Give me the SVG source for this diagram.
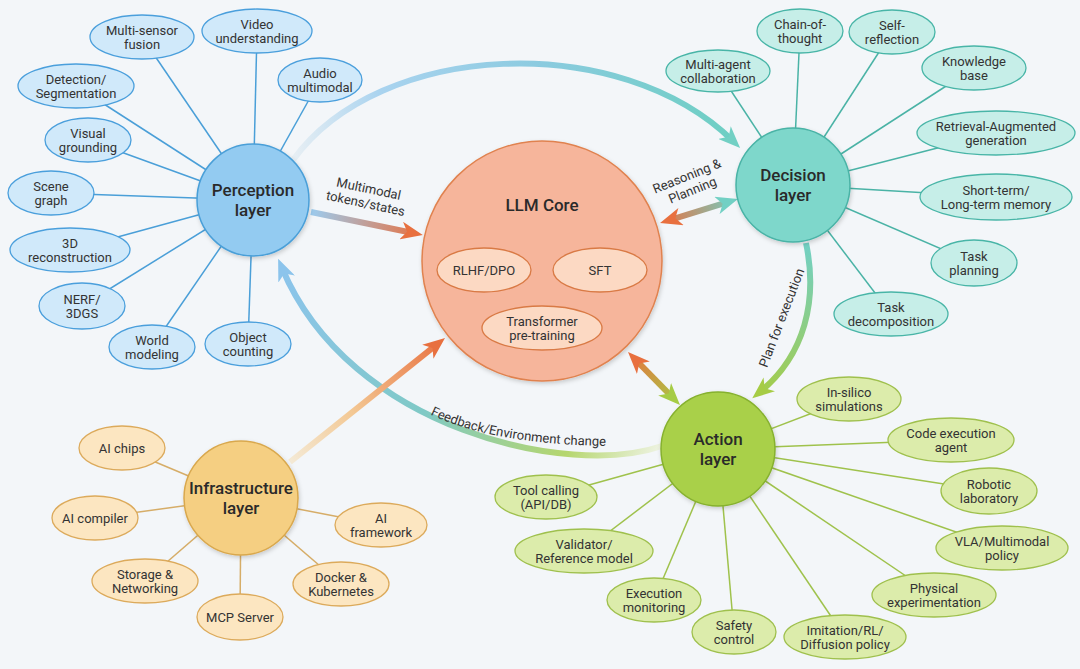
<svg xmlns="http://www.w3.org/2000/svg" width="1080" height="669" viewBox="0 0 1080 669">
<style>
text{font-family:Roboto,"Liberation Sans",sans-serif;fill:#333;text-anchor:middle}
.s{font-size:13px}
.h{font-size:17px;font-weight:500;fill:#2a2a2a}
.lbl{font-size:13px;fill:#333}
.pl{stroke:#4a9fd8;stroke-width:1.5}
.dl{stroke:#4ab3a6;stroke-width:1.5}
.al{stroke:#9fc24c;stroke-width:1.5}
.il{stroke:#d6ad68;stroke-width:1.5}
.pe{fill:#d0e9fa;stroke:#4a9fdc;stroke-width:1.3}
.de{fill:#c6eee8;stroke:#48b5a7;stroke-width:1.3}
.ae{fill:#dcecab;stroke:#9fc04d;stroke-width:1.3}
.ie{fill:#fce6c1;stroke:#dcaa5b;stroke-width:1.3}
.ce{fill:#fcd9c3;stroke:#d97a45;stroke-width:1.3}
.big{fill:none;stroke-width:6;stroke-linecap:butt}
</style>
<defs>
<filter id="sh" x="-20%" y="-20%" width="140%" height="140%"><feDropShadow dx="1" dy="2" stdDeviation="2" flood-color="#000" flood-opacity="0.18"/></filter>
<marker id="aO" viewBox="0 0 22 18" refX="12" refY="9" markerWidth="22" markerHeight="18" markerUnits="userSpaceOnUse" orient="auto-start-reverse"><path d="M0,0 L22,9 L0,18 L6,9 z" fill="#e8703f"/></marker>
<marker id="aT" viewBox="0 0 22 18" refX="12" refY="9" markerWidth="22" markerHeight="18" markerUnits="userSpaceOnUse" orient="auto-start-reverse"><path d="M0,0 L22,9 L0,18 L6,9 z" fill="#72d0c4"/></marker>
<marker id="aG" viewBox="0 0 22 18" refX="12" refY="9" markerWidth="22" markerHeight="18" markerUnits="userSpaceOnUse" orient="auto-start-reverse"><path d="M0,0 L22,9 L0,18 L6,9 z" fill="#a6cc45"/></marker>
<marker id="aB" viewBox="0 0 22 18" refX="12" refY="9" markerWidth="22" markerHeight="18" markerUnits="userSpaceOnUse" orient="auto-start-reverse"><path d="M0,0 L22,9 L0,18 L6,9 z" fill="#8cc4ec"/></marker>
<linearGradient id="gPD" gradientUnits="userSpaceOnUse" x1="293" y1="160" x2="740" y2="147"><stop offset="0" stop-color="#e8eff4"/><stop offset="0.2" stop-color="#a9d3ef"/><stop offset="0.55" stop-color="#8ccbe0"/><stop offset="1" stop-color="#6ccfc2"/></linearGradient>
<linearGradient id="gPL" gradientUnits="userSpaceOnUse" x1="311" y1="212" x2="423" y2="235"><stop offset="0" stop-color="#9ccbee"/><stop offset="1" stop-color="#e8703f"/></linearGradient>
<linearGradient id="gLD" gradientUnits="userSpaceOnUse" x1="660" y1="223" x2="738" y2="199"><stop offset="0" stop-color="#e8703f"/><stop offset="1" stop-color="#72d0c4"/></linearGradient>
<linearGradient id="gDA" gradientUnits="userSpaceOnUse" x1="806" y1="243" x2="755" y2="397"><stop offset="0" stop-color="#72d0c4"/><stop offset="1" stop-color="#a6cc45"/></linearGradient>
<linearGradient id="gLA" gradientUnits="userSpaceOnUse" x1="628" y1="352" x2="680" y2="405"><stop offset="0" stop-color="#e8703f"/><stop offset="1" stop-color="#a6cc45"/></linearGradient>
<linearGradient id="gAP" gradientUnits="userSpaceOnUse" x1="662" y1="446" x2="282" y2="268"><stop offset="0" stop-color="#eef3e2"/><stop offset="0.2" stop-color="#b5d66e"/><stop offset="0.55" stop-color="#7fc9c6"/><stop offset="1" stop-color="#8cc4ec"/></linearGradient>
<linearGradient id="gIL" gradientUnits="userSpaceOnUse" x1="290" y1="462" x2="445" y2="338"><stop offset="0" stop-color="#f4ead6"/><stop offset="0.4" stop-color="#f3c894"/><stop offset="1" stop-color="#e8703f"/></linearGradient>
<path id="fbPath" d="M 425,412 Q 490,445 612,446"/>
</defs>
<rect x="0" y="0" width="1080" height="669" fill="#f3f6f9"/>

<g id="connectors">
<g id="spokes">
<line class="pl" x1="253" y1="200" x2="142" y2="37"/>
<line class="pl" x1="253" y1="200" x2="257" y2="31"/>
<line class="pl" x1="253" y1="200" x2="320" y2="80"/>
<line class="pl" x1="253" y1="200" x2="76" y2="86"/>
<line class="pl" x1="253" y1="200" x2="88" y2="140"/>
<line class="pl" x1="253" y1="200" x2="51" y2="193"/>
<line class="pl" x1="253" y1="200" x2="70" y2="250"/>
<line class="pl" x1="253" y1="200" x2="82" y2="306"/>
<line class="pl" x1="253" y1="200" x2="152" y2="347"/>
<line class="pl" x1="253" y1="200" x2="248" y2="344"/>
<line class="dl" x1="793" y1="185" x2="718" y2="71"/>
<line class="dl" x1="793" y1="185" x2="800" y2="31"/>
<line class="dl" x1="793" y1="185" x2="892" y2="32"/>
<line class="dl" x1="793" y1="185" x2="974" y2="68"/>
<line class="dl" x1="793" y1="185" x2="996" y2="133"/>
<line class="dl" x1="793" y1="185" x2="996" y2="197"/>
<line class="dl" x1="793" y1="185" x2="974" y2="263"/>
<line class="dl" x1="793" y1="185" x2="891" y2="314"/>
<line class="al" x1="718" y1="449" x2="849" y2="399"/>
<line class="al" x1="718" y1="449" x2="951" y2="440"/>
<line class="al" x1="718" y1="449" x2="989" y2="491"/>
<line class="al" x1="718" y1="449" x2="1002" y2="548"/>
<line class="al" x1="718" y1="449" x2="934" y2="595"/>
<line class="al" x1="718" y1="449" x2="845" y2="637"/>
<line class="al" x1="718" y1="449" x2="734" y2="632"/>
<line class="al" x1="718" y1="449" x2="654" y2="600"/>
<line class="al" x1="718" y1="449" x2="584" y2="551"/>
<line class="al" x1="718" y1="449" x2="546" y2="497"/>
<line class="il" x1="241" y1="498" x2="122" y2="448"/>
<line class="il" x1="241" y1="498" x2="95" y2="518"/>
<line class="il" x1="241" y1="498" x2="145" y2="581"/>
<line class="il" x1="241" y1="498" x2="240" y2="617"/>
<line class="il" x1="241" y1="498" x2="341" y2="584"/>
<line class="il" x1="241" y1="498" x2="381" y2="525"/>
</g>
<g id="flows">
<path class="big" stroke="url(#gPD)" d="M 293,160 C 380,40 620,30 733,141" marker-end="url(#aT)"/>
<path class="big" stroke="url(#gPL)" d="M 311,212 L 413,233" marker-end="url(#aO)"/>
<path class="big" stroke="url(#gLD)" d="M 669.6,220.1 L 728.4,201.9" marker-start="url(#aO)" marker-end="url(#aT)"/>
<path class="big" stroke="url(#gDA)" d="M 806,243 C 818,300 805,355 760,392" marker-end="url(#aG)"/>
<path class="big" stroke="url(#gLA)" d="M 635,359.1 L 673,397.9" marker-start="url(#aO)" marker-end="url(#aG)"/>
<path class="big" stroke="url(#gAP)" d="M 662,446 C 570,478 350,430 282,268" marker-end="url(#aB)"/>
<path class="big" stroke="url(#gIL)" d="M 290,462 L 437.2,344.2" marker-end="url(#aO)"/>
</g>
<g id="flow-labels">
<g transform="translate(367,197) rotate(12)"><text class="lbl" x="0" y="-4">Multimodal</text><text class="lbl" x="0" y="11">tokens/states</text></g>
<g transform="translate(690,184) rotate(-22)"><text class="lbl" x="0" y="-4">Reasoning &amp;</text><text class="lbl" x="0" y="11">Planning</text></g>
<g transform="translate(782,318) rotate(-69)"><text class="lbl" x="0" y="4">Plan for execution</text></g>
<text class="lbl"><textPath href="#fbPath" startOffset="50%">Feedback/Environment change</textPath></text>
</g>
</g>

<g id="llm-core">
<circle cx="542" cy="261" r="120" fill="#f6b59b" stroke="#e0824f" stroke-width="1.5" filter="url(#sh)"/>
<text class="h" x="542" y="211">LLM Core</text>
<g id="rlhf"><ellipse class="ce" cx="484" cy="270" rx="47" ry="22"/><text class="s" x="484" y="275">RLHF/DPO</text></g>
<g id="sft"><ellipse class="ce" cx="600" cy="270" rx="47" ry="22"/><text class="s" x="600" y="275">SFT</text></g>
<g id="pretrain"><ellipse class="ce" cx="542" cy="328" rx="60" ry="22"/><text class="s" x="542" y="326">Transformer<tspan x="542" dy="14">pre-training</tspan></text></g>
</g>

<g id="perception">
<circle cx="253" cy="200" r="56" fill="#93cbf1" stroke="#4a9fd8" stroke-width="1.5" filter="url(#sh)"/>
<text class="h" x="253" y="196">Perception<tspan x="253" dy="20">layer</tspan></text>
<g id="p-fusion"><ellipse class="pe" cx="142" cy="37" rx="52" ry="22"/><text class="s" x="142" y="35">Multi-sensor<tspan x="142" dy="14">fusion</tspan></text></g>
<g id="p-video"><ellipse class="pe" cx="257" cy="31" rx="55" ry="22"/><text class="s" x="257" y="29">Video<tspan x="257" dy="14">understanding</tspan></text></g>
<g id="p-audio"><ellipse class="pe" cx="320" cy="80" rx="42" ry="22"/><text class="s" x="320" y="78">Audio<tspan x="320" dy="14">multimodal</tspan></text></g>
<g id="p-detect"><ellipse class="pe" cx="76" cy="86" rx="58" ry="22"/><text class="s" x="76" y="84">Detection/<tspan x="76" dy="14">Segmentation</tspan></text></g>
<g id="p-ground"><ellipse class="pe" cx="88" cy="140" rx="43" ry="22"/><text class="s" x="88" y="138">Visual<tspan x="88" dy="14">grounding</tspan></text></g>
<g id="p-scene"><ellipse class="pe" cx="51" cy="193" rx="43" ry="22"/><text class="s" x="51" y="191">Scene<tspan x="51" dy="14">graph</tspan></text></g>
<g id="p-3d"><ellipse class="pe" cx="70" cy="250" rx="60" ry="22"/><text class="s" x="70" y="248">3D<tspan x="70" dy="14">reconstruction</tspan></text></g>
<g id="p-nerf"><ellipse class="pe" cx="82" cy="306" rx="43" ry="23"/><text class="s" x="82" y="304">NERF/<tspan x="82" dy="14">3DGS</tspan></text></g>
<g id="p-world"><ellipse class="pe" cx="152" cy="347" rx="43" ry="22"/><text class="s" x="152" y="345">World<tspan x="152" dy="14">modeling</tspan></text></g>
<g id="p-count"><ellipse class="pe" cx="248" cy="344" rx="43" ry="22"/><text class="s" x="248" y="342">Object<tspan x="248" dy="14">counting</tspan></text></g>
</g>

<g id="decision">
<circle cx="793" cy="185" r="57" fill="#7ed7cb" stroke="#49b3a6" stroke-width="1.5" filter="url(#sh)"/>
<text class="h" x="793" y="181">Decision<tspan x="793" dy="20">layer</tspan></text>
<g id="d-multi"><ellipse class="de" cx="718" cy="71" rx="52" ry="21"/><text class="s" x="718" y="69">Multi-agent<tspan x="718" dy="14">collaboration</tspan></text></g>
<g id="d-cot"><ellipse class="de" cx="800" cy="31" rx="43" ry="22"/><text class="s" x="800" y="29">Chain-of-<tspan x="800" dy="14">thought</tspan></text></g>
<g id="d-self"><ellipse class="de" cx="892" cy="32" rx="43" ry="22"/><text class="s" x="892" y="30">Self-<tspan x="892" dy="14">reflection</tspan></text></g>
<g id="d-kb"><ellipse class="de" cx="974" cy="68" rx="52" ry="22"/><text class="s" x="974" y="66">Knowledge<tspan x="974" dy="14">base</tspan></text></g>
<g id="d-rag"><ellipse class="de" cx="996" cy="133" rx="79" ry="22"/><text class="s" x="996" y="131">Retrieval-Augmented<tspan x="996" dy="14">generation</tspan></text></g>
<g id="d-mem"><ellipse class="de" cx="996" cy="197" rx="76" ry="23"/><text class="s" x="996" y="195">Short-term/<tspan x="996" dy="14">Long-term memory</tspan></text></g>
<g id="d-plan"><ellipse class="de" cx="974" cy="263" rx="43" ry="23"/><text class="s" x="974" y="261">Task<tspan x="974" dy="14">planning</tspan></text></g>
<g id="d-decomp"><ellipse class="de" cx="891" cy="314" rx="57" ry="22"/><text class="s" x="891" y="312">Task<tspan x="891" dy="14">decomposition</tspan></text></g>
</g>

<g id="action">
<circle cx="718" cy="449" r="57" fill="#a9d049" stroke="#86b12e" stroke-width="1.5" filter="url(#sh)"/>
<text class="h" x="718" y="445">Action<tspan x="718" dy="20">layer</tspan></text>
<g id="a-silico"><ellipse class="ae" cx="849" cy="399" rx="52" ry="22"/><text class="s" x="849" y="397">In-silico<tspan x="849" dy="14">simulations</tspan></text></g>
<g id="a-code"><ellipse class="ae" cx="951" cy="440" rx="63" ry="22"/><text class="s" x="951" y="438">Code execution<tspan x="951" dy="14">agent</tspan></text></g>
<g id="a-robot"><ellipse class="ae" cx="989" cy="491" rx="48" ry="23"/><text class="s" x="989" y="489">Robotic<tspan x="989" dy="14">laboratory</tspan></text></g>
<g id="a-vla"><ellipse class="ae" cx="1002" cy="548" rx="66" ry="22"/><text class="s" x="1002" y="546">VLA/Multimodal<tspan x="1002" dy="14">policy</tspan></text></g>
<g id="a-phys"><ellipse class="ae" cx="934" cy="595" rx="62" ry="22"/><text class="s" x="934" y="593">Physical<tspan x="934" dy="14">experimentation</tspan></text></g>
<g id="a-imit"><ellipse class="ae" cx="845" cy="637" rx="61" ry="22"/><text class="s" x="845" y="635">Imitation/RL/<tspan x="845" dy="14">Diffusion policy</tspan></text></g>
<g id="a-safety"><ellipse class="ae" cx="734" cy="632" rx="42" ry="22"/><text class="s" x="734" y="630">Safety<tspan x="734" dy="14">control</tspan></text></g>
<g id="a-monitor"><ellipse class="ae" cx="654" cy="600" rx="47" ry="22"/><text class="s" x="654" y="598">Execution<tspan x="654" dy="14">monitoring</tspan></text></g>
<g id="a-valid"><ellipse class="ae" cx="584" cy="551" rx="69" ry="22"/><text class="s" x="584" y="549">Validator/<tspan x="584" dy="14">Reference model</tspan></text></g>
<g id="a-tool"><ellipse class="ae" cx="546" cy="497" rx="51" ry="22"/><text class="s" x="546" y="495">Tool calling<tspan x="546" dy="14">(API/DB)</tspan></text></g>
</g>

<g id="infrastructure">
<circle cx="241" cy="498" r="57" fill="#f5cf82" stroke="#d9a84d" stroke-width="1.5" filter="url(#sh)"/>
<text class="h" x="241" y="494">Infrastructure<tspan x="241" dy="20">layer</tspan></text>
<g id="i-chips"><ellipse class="ie" cx="122" cy="448" rx="43" ry="22"/><text class="s" x="122" y="453">AI chips</text></g>
<g id="i-compiler"><ellipse class="ie" cx="95" cy="518" rx="43" ry="22"/><text class="s" x="95" y="523">AI compiler</text></g>
<g id="i-storage"><ellipse class="ie" cx="145" cy="581" rx="53" ry="22"/><text class="s" x="145" y="579">Storage &amp;<tspan x="145" dy="14">Networking</tspan></text></g>
<g id="i-mcp"><ellipse class="ie" cx="240" cy="617" rx="43" ry="23"/><text class="s" x="240" y="622">MCP Server</text></g>
<g id="i-docker"><ellipse class="ie" cx="341" cy="584" rx="48" ry="22"/><text class="s" x="341" y="582">Docker &amp;<tspan x="341" dy="14">Kubernetes</tspan></text></g>
<g id="i-framework"><ellipse class="ie" cx="381" cy="525" rx="46" ry="22"/><text class="s" x="381" y="523">AI<tspan x="381" dy="14">framework</tspan></text></g>
</g>
</svg>
